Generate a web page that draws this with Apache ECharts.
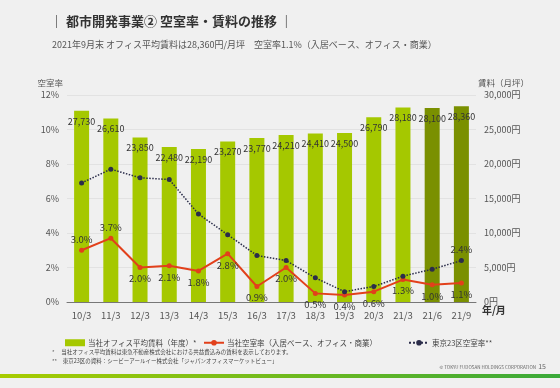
<!DOCTYPE html>
<html><head><meta charset="utf-8">
<script src="https://cdn.jsdelivr.net/npm/echarts@6/dist/echarts.min.js"></script>
<style>html,body{margin:0;padding:0;background:#f0f0f0}#c{width:560px;height:388px}</style>
</head><body><div id="c"></div>
<script>
var categories = ['10/3','11/3','12/3','13/3','14/3','15/3','16/3','17/3','18/3','19/3','20/3','21/3','21/6','21/9'];
var rent = [27730,26610,23850,22480,22190,23270,23770,24210,24410,24500,26790,28180,28100,28360];
var vacancy = [3.0,3.7,2.0,2.1,1.8,2.8,0.9,2.0,0.5,0.4,0.6,1.3,1.0,1.1];
var tokyo23 = [6.9,7.7,7.2,7.1,5.1,3.9,2.7,2.4,1.4,0.6,0.9,1.5,1.9,2.4];
var leftTicks = [0,2,4,6,8,10,12];
var rightTicks = [0,5000,10000,15000,20000,25000,30000];

var F = '"Noto Sans CJK JP","Noto Sans",sans-serif';
var chart = echarts.init(document.getElementById('c'));
var lightG = '#a5c800', darkG = '#7a9000';
function pct(v){ return Number(v).toFixed(1) + '%'; }
chart.setOption({
  backgroundColor: '#f0f0f0',
  animation: false,
  textStyle: {fontFamily: F},
  grid: {left: 67, right: 84, top: 95, bottom: 86},
  legend: [
    {left: 60, top: 334, itemWidth: 20, itemHeight: 7, itemGap: 4, icon: 'rect', data: ['当社オフィス平均賃料（年度）*'], textStyle:{fontSize: 7.5, color:'#444', fontFamily:F, padding:[0,0,0,-2]}},
    {left: 198, top: 334, itemWidth: 20, itemHeight: 7, data: ['当社空室率（入居ベース、オフィス・商業）'], textStyle:{fontSize: 7.5, color:'#444', fontFamily:F, padding:[0,0,0,-2]}},
    {left: 403, top: 334, itemWidth: 20, itemHeight: 7, data: ['東京23区空室率**'], textStyle:{fontSize: 7.5, color:'#444', fontFamily:F, padding:[0,0,0,-2]}}
  ],
  xAxis: {
    type: 'category', data: categories,
    axisLine: {lineStyle: {color: '#777'}},
    axisTick: {inside: true, length: 4, lineStyle: {color: '#777'}},
    axisLabel: {color: '#555', fontSize: 9.5, margin: 9, fontFamily: F}
  },
  yAxis: [
    {type: 'value', min: 0, max: 12, interval: 2, name: '空室率', nameGap: 8,
     nameTextStyle: {color: '#555', fontSize: 8.5, align: 'right', padding: [0, 4, 0, 0]},
     axisLabel: {formatter: '{value}%', color: '#555', fontSize: 9, fontFamily: F},
     axisLine: {show: false}, axisTick: {show: false},
     splitLine: {lineStyle: {color: '#e2e2e2'}}},
    {type: 'value', min: 0, max: 30000, interval: 5000, name: '賃料（月坪）', nameGap: 8,
     nameTextStyle: {color: '#555', fontSize: 8.5, align: 'left', padding: [0, 0, 0, 2]},
     axisLabel: {formatter: function(v){return v.toLocaleString('en-US') + '円';}, color: '#555', fontSize: 9, margin: 8, fontFamily: F},
     axisLine: {show: false}, axisTick: {show: false}, splitLine: {show: false}}
  ],
  series: [
    {name: '当社オフィス平均賃料（年度）*', type: 'bar', yAxisIndex: 1, barWidth: 15,
     itemStyle: {color: lightG},
     data: rent.map(function(v, i){ return {value: v, itemStyle: {color: i >= 12 ? darkG : lightG}}; }),
     label: {show: true, position: 'insideTop', distance: 6, color: '#333', fontSize: 9, fontFamily: F,
       formatter: function(p){ return p.value.toLocaleString('en-US'); }}},
    {name: '当社空室率（入居ベース、オフィス・商業）', type: 'line', yAxisIndex: 0,
     data: vacancy.map(function(v, i){ return {value: v, label: {position: i <= 1 ? 'top' : 'bottom'}}; }),
     itemStyle: {color: '#e2401b'}, lineStyle: {color: '#e2401b', width: 2},
     symbol: 'circle', symbolSize: 5,
     label: {show: true, color: '#333', fontSize: 9.5, fontFamily: F, formatter: function(p){ return pct(p.value); }, distance: 4},
     z: 3},
    {name: '東京23区空室率**', type: 'line', yAxisIndex: 0,
     data: tokyo23.map(function(v, i){
       return i === tokyo23.length - 1 ? {value: v, label: {show: true, position: 'top', color: '#333', fontSize: 9.5, distance: 4, formatter: function(p){ return pct(p.value); }}} : v;
     }),
     itemStyle: {color: '#2b2d4a'}, lineStyle: {color: '#2b2d4a', width: 1.5, type: 'dotted'},
     symbol: 'circle', symbolSize: 5,
     label: {show: false}, z: 4}
  ],
  graphic: [
    {type: 'text', left: 50, top: 15, style: {text: '｜ 都市開発事業② 空室率・賃料の推移 ｜', fill: '#333', font: 'bold 13px ' + F}},
    {type: 'text', left: 52, top: 40, style: {text: '2021年9月末 オフィス平均賃料は28,360円/月坪　空室率1.1%（入居ベース、オフィス・商業）', fill: '#555', font: '9px ' + F}},
    {type: 'text', left: 482, top: 305, style: {text: '年/月', fill: '#333', font: 'bold 10px ' + F}},
    {type: 'text', left: 52, top: 349, style: {text: '*　 当社オフィス平均賃料は東急不動産株式会社における共益費込みの賃料を表示しております。', fill: '#444', font: '5.5px ' + F}},
    {type: 'text', left: 52, top: 358, style: {text: '**　東京23区の資料：シービーアールイー株式会社「ジャパンオフィスマーケットビュー」', fill: '#444', font: '5.5px ' + F}},
    {type: 'text', right: 24, top: 365, style: {text: '© TOKYU FUDOSAN HOLDINGS CORPORATION', fill: '#666', font: '4.5px ' + F}},
    {type: 'text', right: 14, top: 363, style: {text: '15', fill: '#666', font: '7px ' + F}},
    {type: 'rect', left: 0, top: 374, shape: {width: 560, height: 4},
     style: {fill: new echarts.graphic.LinearGradient(0, 0, 1, 0, [{offset: 0, color: '#a8cc00'}, {offset: 1, color: '#3aa93a'}])}}
  ]
});
</script></body></html>
